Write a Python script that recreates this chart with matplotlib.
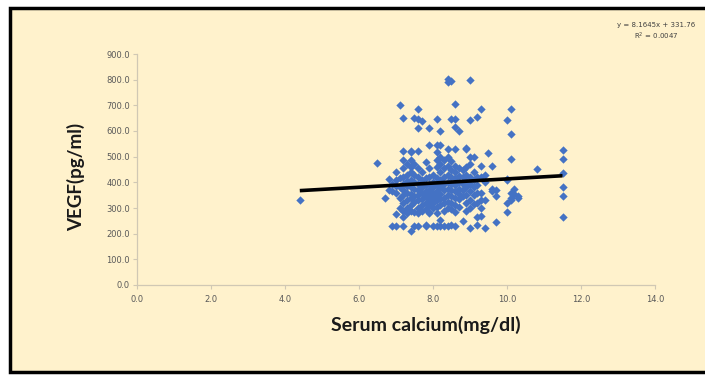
import matplotlib.pyplot as plt
import numpy as np
from matplotlib.patches import Rectangle

# Serum calcium (mg/dl) -> list of VEGF (pg/ml) readings at that calcium level
calcium_levels = [4.4, 6.5, 6.7, 6.8, 6.9, 7.0, 7.1, 7.2, 7.3, 7.4, 7.5, 7.6, 7.7,
                  7.8, 7.9, 8.0, 8.1, 8.2, 8.3, 8.4, 8.5, 8.6, 8.7, 8.8, 8.9,
                  9.0, 9.1, 9.2, 9.3, 9.4, 9.5, 9.6, 9.7, 10.0, 10.1, 10.2,
                  10.3, 10.8, 11.5]
vegf_values = [
    [330],
    [475],
    [338],
    [413, 370],
    [230, 365, 395],
    [230, 278, 360, 385, 410, 440],
    [700, 340, 300, 415, 380],
    [650, 523, 487, 455, 420, 395, 370, 350, 320, 290, 230, 265],
    [470, 430, 405, 385, 360, 330, 300, 280],
    [211, 523, 487, 460, 440, 410, 380, 355, 340, 310, 290, 520],
    [650, 470, 430, 400, 375, 345, 325, 285, 230],
    [685, 610, 645, 523, 455, 420, 395, 370, 350, 330, 300, 280, 230],
    [640, 440, 410, 380, 360, 335, 310, 290],
    [480, 415, 390, 365, 345, 320, 295, 230, 232],
    [610, 545, 455, 420, 395, 370, 350, 330, 310, 285, 280],
    [430, 400, 380, 360, 340, 320, 300, 230],
    [645, 545, 520, 487, 460, 415, 390, 365, 345, 330, 305, 280, 230],
    [600, 545, 500, 470, 440, 410, 380, 355, 335, 310, 255, 230],
    [487, 455, 420, 395, 370, 340, 320, 290, 230],
    [804, 789, 530, 500, 465, 430, 400, 375, 350, 325, 300, 230],
    [795, 647, 485, 447, 420, 395, 370, 345, 320, 295, 233],
    [705, 647, 617, 530, 465, 440, 415, 390, 365, 340, 310, 285, 230],
    [601, 455, 425, 400, 375, 355, 335, 305],
    [447, 420, 395, 370, 345, 250],
    [535, 530, 460, 430, 405, 380, 350, 320, 290],
    [798, 643, 500, 471, 420, 395, 365, 330, 300, 224],
    [500, 440, 410, 380, 350, 315],
    [653, 420, 390, 360, 318, 233, 265],
    [685, 465, 420, 360, 330, 300, 267],
    [430, 400, 330, 221],
    [515],
    [465, 375, 365],
    [370, 345, 247],
    [643, 412, 285, 320, 410],
    [685, 590, 489, 360, 330, 340],
    [375, 355],
    [345, 340],
    [452],
    [527, 491, 435, 380, 347, 265],
]

# Excel trendline as printed on the chart
slope = 8.1645
intercept = 331.76
r_squared = 0.0047

x_ticks = [0, 2, 4, 6, 8, 10, 12, 14]
y_ticks = [0, 100, 200, 300, 400, 500, 600, 700, 800, 900]

# Flatten the per-level readings into point lists
xs = []
ys = []
for level, readings in zip(calcium_levels, vegf_values):
    xs.extend([level] * len(readings))
    ys.extend(readings)
xs = np.array(xs)
ys = np.array(ys)

cream = '#FFF2CC'
axis_grey = '#D0C8B4'
text_grey = '#595959'

fig = plt.figure(figsize=(7.05, 3.77), dpi=100)
fig.patch.set_facecolor('white')

# Chart area with black frame (behind the axes)
frame = Rectangle((10 / 705, 1 - 372 / 377), 1.0, (372 - 8) / 377,
                  transform=fig.transFigure, facecolor=cream,
                  edgecolor='black', linewidth=2.5, zorder=-5)
fig.patches.append(frame)

ax = fig.add_axes([137 / 705, 1 - 285 / 377, (655 - 137) / 705, (285 - 54) / 377])
ax.set_zorder(2)
ax.patch.set_alpha(0)

ax.scatter(xs, ys, marker='D', s=18, color='#4472C4', linewidths=0, zorder=3)

# Linear trendline
line_x = np.array([xs.min(), xs.max()])
ax.plot(line_x, slope * line_x + intercept, color='black', linewidth=2.6,
        solid_capstyle='butt', zorder=4)

ax.set_xlim(0, 14)
ax.set_ylim(0, 900)
ax.set_xticks(x_ticks)
ax.set_yticks(y_ticks)
ax.set_xticklabels(['%.1f' % t for t in x_ticks])
ax.set_yticklabels(['%.1f' % t for t in y_ticks])
ax.tick_params(axis='both', labelsize=6, colors=text_grey, length=3,
               width=0.8, color=axis_grey, direction='out')
ax.tick_params(axis='x', pad=4)
ax.tick_params(axis='y', pad=2)

for side in ['top', 'right']:
    ax.spines[side].set_visible(False)
for side in ['left', 'bottom']:
    ax.spines[side].set_color(axis_grey)
    ax.spines[side].set_linewidth(0.9)

fig.text(426 / 705, 1 - 325 / 377, 'Serum calcium(mg/dl)', ha='center',
         va='center', fontsize=14, fontweight='bold', family='Lato',
         color='#1a1a1a', zorder=3)
fig.text(76 / 705, 1 - 177 / 377, 'VEGF(pg/ml)', ha='center', va='center',
         rotation=90, fontsize=13.5, fontweight='bold', family='Lato',
         color='#1a1a1a', zorder=3)

fig.text(656 / 705, 1 - 25 / 377, 'y = %.4fx + %.2f' % (slope, intercept),
         ha='center', va='center', fontsize=5, color='#404040', zorder=3)
fig.text(656 / 705, 1 - 36 / 377, 'R$^2$ = %.4f' % r_squared,
         ha='center', va='center', fontsize=5, color='#404040', zorder=3)

fig.savefig('out.png', dpi=100)
